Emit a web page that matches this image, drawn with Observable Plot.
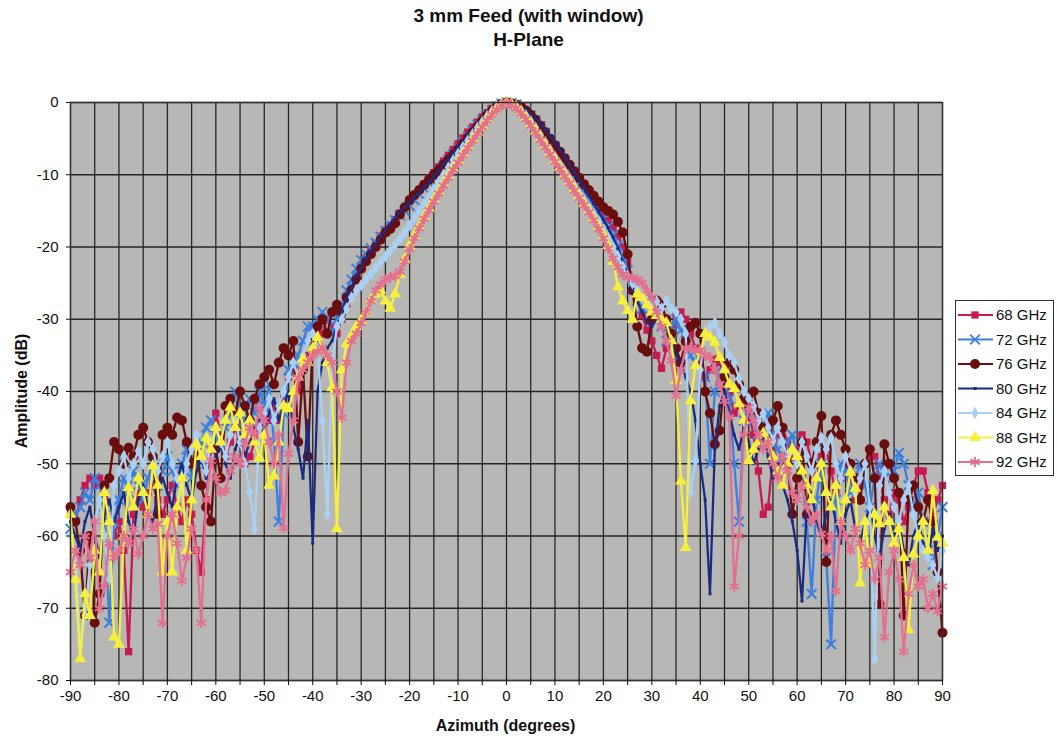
<!DOCTYPE html>
<html><head><meta charset="utf-8">
<script src="https://cdn.jsdelivr.net/npm/d3@7"></script>
<script src="https://cdn.jsdelivr.net/npm/@observablehq/plot@0.6"></script>
<style>
body{margin:0;background:#fff;font-family:"Liberation Sans",Arial,sans-serif;}
#wrap{position:relative;width:1057px;height:739px;overflow:hidden;}
#title{position:absolute;left:0;top:4px;width:1057px;text-align:center;font-weight:bold;font-size:19px;line-height:24px;color:#111;}
#chart{position:absolute;left:0;top:55px;}
#legend{position:absolute;left:955px;top:300px;}
#xlab{position:absolute;left:0;width:1011px;top:717px;text-align:center;font-weight:bold;font-size:16px;color:#111;}
#ylab{position:absolute;left:22px;top:391px;font-weight:bold;font-size:16px;color:#111;transform:translate(-50%,-50%) rotate(-90deg);white-space:nowrap;}
</style></head><body>
<div id="wrap">
<div id="title">3 mm Feed (with window)<br>H-Plane</div>
<div id="chart"></div>
<div id="xlab">Azimuth (degrees)</div>
<div id="ylab">Amplitude (dB)</div>
<svg id="legend" width="100" height="176"></svg>
</div>
<script>
// Azimuth sampling grid (degrees)
const azimuth = d3.range(-90, 91, 1);
const xTicks = d3.range(-90, 91, 5);
const yTicks = [-80, -70, -60, -50, -40, -30, -20, -10, 0];
const seriesNames = ["68 GHz", "72 GHz", "76 GHz", "80 GHz", "84 GHz", "88 GHz", "92 GHz"];

const amp68 = [
-57,-58,-55,-53,-52,-53,-52,-55,-58,-60,
-58,-62,-76,-57,-54,-56,-54,-53,-55,-57,
-55,-53,-56,-58,-55,-57,-62,-65,-55,-48,
-43,-46,-49,-47,-45,-47,-50,-49,-47,-45,
-43,-44,-42,-44,-41,-38,-37,-40,-37,-35,
-33,-34,-32,-30,-31,-32,-30,-28,-26,-24,
-22.5,-21.5,-20.5,-19.5,-18.5,-17.7,-17,-16.2,-15.3,-14.5,
-13.7,-12.9,-12.1,-11.3,-10.5,-9.7,-8.9,-8.1,-7.3,-6.5,
-5.7,-4.9,-4.1,-3.4,-2.7,-2,-1.4,-0.8,-0.4,-0.1,
0,-0.1,-0.4,-0.8,-1.3,-2,-2.7,-3.5,-4.4,-5.3,
-6.2,-7.1,-8,-9,-9.9,-10.8,-11.7,-12.6,-13.5,-14.4,
-15.3,-16.3,-17.3,-18.5,-20,-22,-24.5,-27,-29.5,-31.5,
-33,-35,-36.8,-34,-31,-29.5,-29,-30,-32,-34,
-36,-38,-37,-35.5,-36,-38,-40,-43,-42,-41,
-43,-46,-51,-57,-56,-49,-46,-45,-47,-49,
-48,-46,-47,-50,-52,-49,-48,-51,-54,-52,
-50,-52,-55,-53,-50,-49,-49,-52,-55,-57,
-54,-55,-58,-56,-53,-51,-51,-54,-57,-55,
-53];

const amp72 = [
-59,-57,-56,-54,-55,-52,-53,-56,-72,-58,
-55,-52,-54,-51,-53,-55,-52,-50,-53,-51,
-49,-51,-53,-50,-48,-52,-50,-47,-45,-44,
-46,-48,-45,-43,-40,-42,-44,-41,-43,-40,
-42,-39,-47,-58,-43,-37,-36,-35,-33,-31,
-31,-30,-29,-30,-32,-30,-28,-26,-24.5,-23,
-21.8,-21,-20.2,-19.4,-18.6,-17.8,-17,-16.3,-15.6,-15,
-14.3,-13.5,-12.7,-11.9,-11.1,-10.3,-9.5,-8.7,-7.9,-7.1,
-6.3,-5.5,-4.7,-3.9,-3.1,-2.4,-1.7,-1.1,-0.6,-0.2,
0,-0.1,-0.3,-0.7,-1.2,-1.8,-2.5,-3.3,-4.2,-5.1,
-6.1,-7.1,-8.1,-9.1,-10.1,-11.1,-12.1,-13.1,-14.1,-15.1,
-16.1,-17.2,-18.4,-19.8,-21.4,-23.2,-25.5,-27.5,-28.5,-28,
-27.5,-29,-31,-33,-31,-30,-31.5,-33,-35,-36,
-34.5,-38,-50,-40,-37,-38,-41,-50,-58,-44,
-42,-44,-47,-45,-43,-46,-48,-50,-47,-46,
-49,-52,-58,-68,-55,-50,-63,-75,-55,-50,
-51,-54,-52,-50,-53,-56,-52,-50,-52,-50,
-51,-48.5,-50,-53,-56,-54,-58,-62,-64,-60,
-56];

const amp76 = [
-56,-58,-62,-71,-60,-72,-68,-53,-52,-47,
-48,-50,-47.8,-49,-46,-45,-47,-49,-57,-46,
-45,-46,-43.6,-44,-47,-50,-48,-53,-56,-58,
-48,-52,-42,-41,-43,-40,-42,-44,-41,-39,
-38,-37,-39,-36,-34,-35,-33,-47,-37,-49,
-33,-31,-30,-32,-29,-28,-29,-27,-26,-24.5,
-23,-22,-21,-20,-19,-18,-17.5,-16.7,-15.5,-14.5,
-13.5,-12.8,-12.1,-11.4,-10.7,-10,-9.3,-8.6,-7.9,-7.2,
-6.5,-5.7,-4.9,-4.1,-3.3,-2.5,-1.8,-1.1,-0.6,-0.2,
0,-0.1,-0.3,-0.6,-1.1,-1.7,-2.4,-3.2,-4.1,-5,
-5.9,-6.8,-7.7,-8.6,-9.5,-10.4,-11.3,-12.1,-12.9,-13.7,
-14.5,-15,-15.5,-16.5,-18,-21,-26,-31,-34,-34.5,
-30,-27.4,-28,-30,-32,-34,-36,-33,-31,-30.5,
-32,-40,-43,-47.3,-45.4,-38,-36,-37,-39,-41,
-42,-40,-43,-45,-47,-44,-42,-45,-50,-57,
-52,-47,-57,-50,-47,-43.4,-63.6,-46,-44,-46,
-48,-50,-52,-55,-50,-48,-52,-69.4,-47.3,-50,
-52,-54,-71,-55,-53,-56,-58,-55,-58,-65,
-73.4];

const amp80 = [
-58,-60,-62,-58,-56,-60,-63,-57,-55,-58,
-56,-54,-58,-60,-55,-53,-56,-58,-54,-52,
-54,-56,-52,-50,-53,-55,-51,-49,-52,-50,
-49,-47,-50,-52,-48,-46,-49,-47,-45,-44,
-46,-43,-41,-44,-42,-40,-45,-48,-52,-44,
-61,-40,-36,-34,-33,-31,-29,-27,-25.5,-24,
-22.8,-21.6,-20.6,-19.6,-18.6,-17.7,-16.8,-16,-15.2,-14.5,
-13.8,-13.1,-12.4,-11.7,-11,-10.2,-9.4,-8.6,-7.8,-7,
-6.2,-5.4,-4.6,-3.8,-3,-2.3,-1.6,-1,-0.5,-0.1,
0,-0.1,-0.3,-0.6,-1,-1.6,-2.2,-2.9,-3.7,-4.6,
-5.5,-6.5,-7.5,-8.5,-9.6,-10.7,-11.8,-12.9,-14,-15.1,
-16.2,-17.4,-18.7,-20.2,-22,-24,-26,-27.5,-29,-30.5,
-31,-30,-29.5,-31,-33,-35,-36,-38,-40,-44,
-50,-55,-68,-48,-42,-40,-43,-46,-48,-45,
-47,-50,-48,-46,-49,-52,-50,-53,-55,-58,
-62,-69,-56,-54,-58,-60,-57,-55,-58,-61,
-57,-55,-59,-61,-58,-56,-60,-63,-59,-57,
-60,-58,-62,-64,-60,-58,-61,-63,-59,-62,
-60];

const amp84 = [
-60,-62,-75,-71,-64,-58,-55,-60,-66,-53,
-51,-49,-52,-50,-48.2,-50,-47,-48,-51,-49,
-47,-50,-52,-54,-50,-48,-46,-49,-51,-47,
-45,-47,-49,-46,-44,-47,-50,-54,-59,-45,
-43,-41,-44,-42,-40,-38,-36,-38,-35,-33,
-32,-34,-44,-57,-36,-31,-30,-28.5,-27,-26,
-25.3,-24.5,-23.7,-22.9,-22.1,-21.3,-20.5,-19.7,-18.9,-18,
-17,-16,-15,-14,-13,-12,-11,-10,-9,-8,
-7.1,-6.2,-5.3,-4.4,-3.5,-2.7,-1.9,-1.2,-0.6,-0.2,
0,-0.2,-0.5,-1.1,-1.8,-2.6,-3.5,-4.5,-5.5,-6.5,
-7.5,-8.5,-9.5,-10.5,-11.5,-12.5,-13.5,-14.5,-15.5,-16.5,
-17.6,-18.8,-20,-21.3,-22.7,-24,-25,-26,-27,-27.5,
-28,-27.5,-28.5,-27.4,-28.5,-29,-30,-32,-54,-49.6,
-37,-32,-31,-30.5,-32,-33.2,-35,-36,-38.2,-40,
-41,-42,-44,-43,-45,-46.8,-45,-47,-49,-48,
-50,-47,-49,-51,-48,-46.4,-48,-46.4,-50,-52,
-49,-51,-54,-52,-50,-56,-77,-53,-51,-54,
-56,-58,-55,-53,-57,-60,-62,-63,-64,-65.8,
-62];

const amp88 = [
-57,-66,-77,-68,-71,-62,-65,-54,-58,-74,
-75,-60,-53.3,-56,-52,-54,-57,-50.3,-53,-65,
-58,-65,-56,-52,-62,-55,-47.3,-49,-46.4,-48,
-45,-47,-44,-42.2,-45,-43,-46,-44,-47,-49.2,
-46,-53,-51.7,-47,-42,-42.4,-40,-38,-35.5,-36,
-34,-32.5,-34,-36,-39.5,-59,-37,-33.4,-32.3,-31,
-30.2,-29,-27.4,-26.5,-26,-27.5,-28.5,-26.5,-23.8,-21.7,
-19.8,-18.4,-17.1,-15.8,-14.6,-13.4,-12.3,-11.2,-10.1,-9.1,
-8.1,-7.1,-6.1,-5.1,-4.2,-3.3,-2.4,-1.6,-0.9,-0.3,
0,-0.2,-0.6,-1.3,-2.1,-3,-4,-5,-6,-7,
-8,-9,-10,-11,-12,-13,-14,-15,-16.1,-17.2,
-18.4,-19.8,-22,-25.5,-27.5,-28.8,-30,-26.5,-27,-28,
-29,-29.5,-30,-30.5,-33,-38.5,-52.4,-61.6,-41.3,-36.4,
-34.5,-32,-32.5,-33.2,-35.3,-37,-39,-39.6,-41.7,-44,
-49.6,-48,-47,-45.8,-47,-49,-51,-53,-50,-48,
-49,-51,-53,-55,-52,-50,-54,-56,-53,-58,
-55,-51.2,-53.4,-66.5,-58,-63.9,-57,-58.3,-56,-58,
-61,-59,-63,-73,-62.5,-60,-58,-62,-53.7,-60.2,
-61];

const amp92 = [
-65,-62,-64,-60,-63,-58,-70,-66.9,-61,-63,
-62,-60,-61,-59,-62.5,-60,-57,-59,-58.3,-72,
-60,-57,-61,-66.2,-63,-59,-62,-72,-55,-49.6,
-52,-54,-53.7,-51,-49,-50,-47.2,-45,-46,-42.2,
-44,-47,-50,-46,-58.9,-48.6,-44,-38.1,-37,-36,
-35,-34.5,-33.9,-35,-36,-40,-43.6,-36,-33,-32,
-30.5,-29,-27.5,-26,-25.2,-24.5,-24.2,-24,-23.4,-22,
-20.3,-18.8,-17.4,-16.1,-14.9,-13.7,-12.6,-11.5,-10.4,-9.3,
-8.3,-7.3,-6.3,-5.3,-4.3,-3.4,-2.5,-1.7,-1,-0.4,
0,-0.3,-0.8,-1.5,-2.3,-3.2,-4.2,-5.2,-6.2,-7.2,
-8.2,-9.2,-10.2,-11.2,-12.2,-13.2,-14.2,-15.2,-16.3,-17.5,
-18.8,-20.2,-21.6,-22.8,-23.8,-24.2,-24.3,-24.5,-25,-26,
-27,-29,-31,-33,-35.7,-40.6,-37,-34,-34,-34.3,
-34.3,-35,-35.3,-37,-39,-41.3,-43.6,-67,-60,-46,
-42.2,-44,-46,-48,-47,-50,-52,-49,-51,-54,
-55,-53,-56,-58,-57,-59.7,-62,-60,-67.6,-58,
-60,-62,-59,-61,-64,-62,-66,-63,-74,-65,
-62,-66,-76,-68,-64,-67,-66,-70,-68,-70.4,
-67];

const seriesValues = [amp68, amp72, amp76, amp80, amp84, amp88, amp92];
const seriesColors = ["#c71a50", "#3b7fe0", "#6a0d0d", "#1b2c80", "#a9d1f5", "#f6f03c", "#e46f8e"];
const seriesSymbols = ["square", "times", "circle", "square", "diamond", "triangle", "asterisk"];
const seriesR = [4.1, 4.5, 5, 1.7, 3.8, 4.4, 5];
const seriesFilled = [true, false, true, true, true, true, false];

const rows = [];
seriesNames.forEach((name, s) => {
  seriesValues[s].forEach((v, i) => rows.push({series: name, az: azimuth[i], amp: v}));
});

const marks = [
  Plot.frame({fill: "#b7b7b5"}),
  Plot.ruleX(xTicks, {stroke: "#262626", strokeWidth: 1.3}),
  Plot.ruleY(yTicks, {stroke: "#262626", strokeWidth: 1.3})
];
seriesNames.forEach((name, s) => {
  const data = rows.filter(d => d.series === name);
  marks.push(Plot.line(data, {x: "az", y: "amp", stroke: seriesColors[s], strokeWidth: 2.3}));
  const dotOpts = {x: "az", y: "amp", symbol: seriesSymbols[s], r: seriesR[s]};
  if (seriesFilled[s]) { dotOpts.fill = seriesColors[s]; dotOpts.stroke = "none"; }
  else { dotOpts.stroke = seriesColors[s]; dotOpts.strokeWidth = 2; dotOpts.fill = "none"; }
  marks.push(Plot.dot(data, dotOpts));
});
marks.push(Plot.frame({stroke: "#333", strokeWidth: 1.3}));
marks.push(Plot.axisX({ticks: xTicks, tickFormat: d => (d % 10 === 0 ? String(d) : ""), tickSize: 5, tickPadding: 5, fontSize: 15, label: null}));
marks.push(Plot.axisY({ticks: yTicks, tickFormat: d => String(d), tickSize: 4, tickPadding: 8, fontSize: 15, label: null}));

const chart = Plot.plot({
  width: 950, height: 684,
  marginLeft: 70, marginRight: 8, marginTop: 47, marginBottom: 59,
  x: {domain: [-90, 90]},
  y: {domain: [-80, 0]},
  style: {fontFamily: "'Liberation Sans', Arial, sans-serif", fontSize: "15px", color: "#111", background: "transparent", overflow: "visible"},
  marks
});
document.getElementById("chart").appendChild(chart);

// Legend
const leg = d3.select("#legend");
leg.append("rect").attr("x", 0.5).attr("y", 0.5).attr("width", 98).attr("height", 175).attr("fill", "#fff").attr("stroke", "#333").attr("stroke-width", 1);
const symMap = {square: d3.symbolSquare, times: d3.symbolTimes, circle: d3.symbolCircle, diamond: d3.symbolDiamond, triangle: d3.symbolTriangle, asterisk: d3.symbolAsterisk};
seriesNames.forEach((name, s) => {
  const y = 15 + s * 24.5;
  const g = leg.append("g");
  g.append("line").attr("x1", 3).attr("x2", 38).attr("y1", y).attr("y2", y).attr("stroke", seriesColors[s]).attr("stroke-width", 2);
  const size = Math.PI * seriesR[s] * seriesR[s];
  const p = g.append("path").attr("d", d3.symbol(symMap[seriesSymbols[s]], size)()).attr("transform", `translate(20,${y})`);
  if (seriesFilled[s]) p.attr("fill", seriesColors[s]);
  else p.attr("fill", "none").attr("stroke", seriesColors[s]).attr("stroke-width", 1.8);
  g.append("text").attr("x", 41).attr("y", y + 5).attr("font-size", 15).attr("font-family", "'Liberation Sans', Arial, sans-serif").attr("fill", "#111").text(name);
});
</script>
</body></html>
